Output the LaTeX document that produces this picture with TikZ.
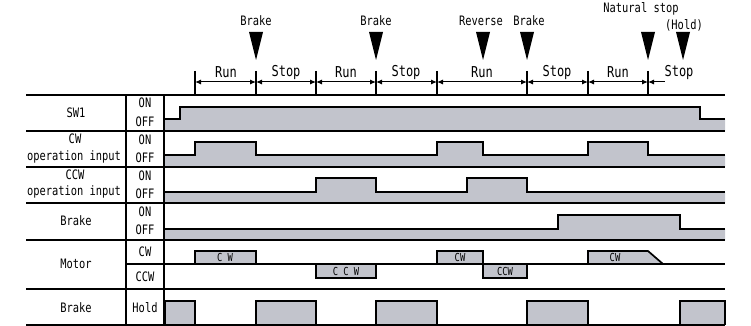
\documentclass[tikz,border=0pt]{standalone}
\usepackage{fontspec}
\setmonofont{DejaVu Sans Mono}[FakeStretch=0.8]
\usetikzlibrary{arrows.meta}
\definecolor{sigfill}{HTML}{C2C4CC}

% one signal row: fill under the level line down to the row bottom, then the line
\newcommand{\sigrow}[2]{%
  \fill[sigfill] #2 |- (165,#1) -- cycle;
  \draw[sigline] #2;}

\begin{document}
\begin{tikzpicture}[x=1pt, y=-1pt,
    lbl/.style={font=\ttfamily\fontsize{13}{13}\selectfont, inner sep=0pt},
    phase/.style={font=\ttfamily\fontsize{15}{15}\selectfont, inner sep=0pt},
    small/.style={font=\ttfamily\fontsize{11}{11}\selectfont, inner sep=0pt},
    grid/.style={line width=2pt},
    sigline/.style={line width=1.7pt, line join=miter},
    box/.style={fill=sigfill, draw=black, line width=1.7pt},
    dim/.style={line width=1pt, {Latex[length=6pt,width=5pt]}-{Latex[length=6pt,width=5pt]}},
    tick/.style={line width=1.5pt},
    marker/.style={fill=black}
  ]
    \useasboundingbox (0,0) rectangle (751,326);

    % signal fills and levels
    \sigrow{131}{(165,119) -- (180,119) -- (180,107) -- (700,107) -- (700,119) -- (725,119)}
    \sigrow{167}{(165,155) -- (195,155) -- (195,142) -- (256,142) -- (256,155) -- (437,155)
      -- (437,142) -- (483,142) -- (483,155) -- (588,155) -- (588,142) -- (648,142)
      -- (648,155) -- (725,155)}
    \sigrow{203}{(165,192) -- (316,192) -- (316,178) -- (376,178) -- (376,192) -- (467,192)
      -- (467,178) -- (527,178) -- (527,192) -- (725,192)}
    \sigrow{240}{(165,229) -- (558,229) -- (558,215) -- (680,215) -- (680,229) -- (725,229)}

    % motor
    \filldraw[box] (195,264) |- (256,251) -- (256,264);
    \filldraw[box] (316,264) |- (376,278) -- (376,264);
    \filldraw[box] (437,264) |- (483,251) -- (483,264);
    \filldraw[box] (483,264) |- (527,278) -- (527,264);
    \filldraw[box] (588,264) |- (648,251) -- (663,264);
    \node[small] (m1) at (225,257.5) {C W};
    \node[small] (m2) at (346,271.5) {C C W};
    \node[small] (m3) at (460,257.5) {CW};
    \node[small] (m4) at (505,271.5) {CCW};
    \node[small] (m5) at (615,257.5) {CW};

    % brake hold
    \foreach \a/\b in {165/195, 256/316, 376/437, 527/588, 680/725}
      \filldraw[box] (\a,325) |- (\b,301) -- (\b,325);

    % table
    \foreach \y in {95,131,167,203,240,289,325}
      \draw[grid] (26,\y) -- (725,\y);
    \draw[grid] (126,264) -- (725,264);
    \draw[grid] (126,95) -- (126,325);
    \draw[grid] (164,95) -- (164,325);

    \node[lbl] (sw) at (76,113) {SW1};
    \node[lbl] (cw) at (75,139) {CW};
    \node[lbl] (cwin) at (74,157) {operation input};
    \node[lbl] (ccw) at (75,175) {CCW};
    \node[lbl] (ccwin) at (74,192) {operation input};
    \node[lbl] (brk) at (76,221) {Brake};
    \node[lbl] (mot) at (76,264) {Motor};
    \node[lbl] (hold) at (76,308) {Brake};

    \node[lbl] (swon) at (145,103) {ON};
    \node[lbl] (swoff) at (145,122) {OFF};
    \node[lbl] (cwon) at (145,140) {ON};
    \node[lbl] (cwoff) at (145,158) {OFF};
    \node[lbl] (ccwon) at (145,176) {ON};
    \node[lbl] (ccwoff) at (145,194) {OFF};
    \node[lbl] (brkon) at (145,212) {ON};
    \node[lbl] (brkoff) at (145,230) {OFF};
    \node[lbl] (motcw) at (145,252) {CW};
    \node[lbl] (motccw) at (145,277) {CCW};
    \node[lbl] (hldon) at (145,308) {Hold};

    % phases
    \foreach \n/\x in {0/195, 1/256, 2/316, 3/376, 4/437, 5/527, 6/588, 7/648} {
      \coordinate (t\n) at (\x,82);
      \draw[tick] (\x,71) -- (\x,95);
    }
    \coordinate (tend) at (665,82);
    \draw[dim] (t0) -- (t1);
    \draw[dim] (t1) -- (t2);
    \draw[dim] (t2) -- (t3);
    \draw[dim] (t3) -- (t4);
    \draw[dim] (t4) -- (t5);
    \draw[dim] (t5) -- (t6);
    \draw[dim] (t6) -- (t7);
    \draw[line width=1pt, {Latex[length=6pt,width=5pt]}-] (t7) -- (tend);
    \node[phase] (p1) at (226,72) {Run};
    \node[phase] (p2) at (286,72) {Stop};
    \node[phase] (p3) at (346,72) {Run};
    \node[phase] (p4) at (406,72) {Stop};
    \node[phase] (p5) at (482,72) {Run};
    \node[phase] (p6) at (557,72) {Stop};
    \node[phase] (p7) at (618,72) {Run};
    \node[phase] (p8) at (679,72) {Stop};

    % events
    \foreach \n/\x in {b1/256, b2/376, rv/483, b3/527, ns/648, hd/683} {
      \coordinate (\n) at (\x,60);
      \fill[marker] (\x-7,32) -- (\x+7,32) -- (\n) -- cycle;
    }
    \node[lbl] (lb1) at (256,21) {Brake};
    \node[lbl] (lb2) at (376,21) {Brake};
    \node[lbl] (lrv) at (481,21) {Reverse};
    \node[lbl] (lb3) at (529,21) {Brake};
    \node[lbl] (lns) at (641,9) {Natural stop};
    \node[lbl] (lhd) at (684,25) {(Hold)};
  \end{tikzpicture}
\end{document}
